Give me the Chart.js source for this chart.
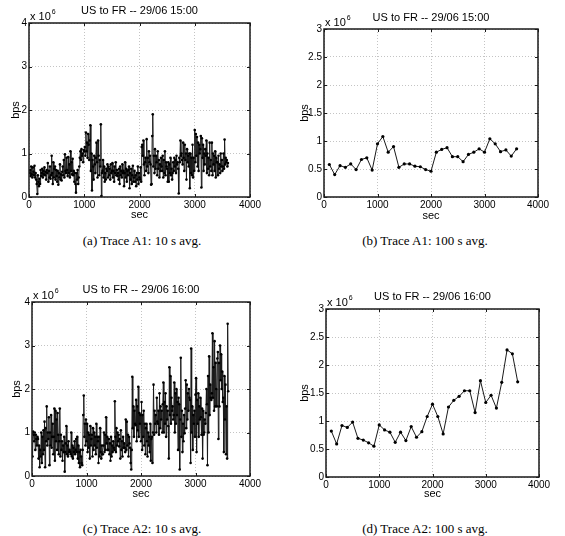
<!DOCTYPE html>
<html><head><meta charset="utf-8">
<script src="https://cdn.jsdelivr.net/npm/chart.js@4/dist/chart.umd.min.js"></script>
<style>
html,body{margin:0;padding:0;background:#fff;width:565px;height:536px;overflow:hidden;position:relative}
.box{position:absolute}
.cap{position:absolute;font-family:"Liberation Serif","Times New Roman",serif;font-size:13px;line-height:normal;padding:3px 4px;color:#000;transform:translate(-50%,-50%);white-space:nowrap;opacity:0.99}
</style></head><body>
<div class="box" id="wa"><canvas id="ca"></canvas></div>
<div class="box" id="wb"><canvas id="cb"></canvas></div>
<div class="box" id="wc"><canvas id="cc"></canvas></div>
<div class="box" id="wd"><canvas id="cd"></canvas></div>
<div class="cap" style="left:142px;top:241px">(a) Trace A1: 10 s avg.</div>
<div class="cap" style="left:425px;top:241px">(b) Trace A1: 100 s avg.</div>
<div class="cap" style="left:142px;top:529px">(c) Trace A2: 10 s avg.</div>
<div class="cap" style="left:425px;top:529px">(d) Trace A2: 100 s avg.</div>
<script>
// ---- data (bps, in units of 10^6) ----
const STEP_10S = 10;    // seconds between samples, 10 s average traces
const STEP_100S = 100;  // seconds between samples, 100 s average traces
const X_TICKS = [0, 1000, 2000, 3000, 4000];
const Y_TICKS_10S = [0, 1, 2, 3, 4];
const Y_TICKS_100S = [0, 0.5, 1, 1.5, 2, 2.5, 3];
const TITLE_A1 = "US to FR -- 29/06 15:00";
const TITLE_A2 = "US to FR -- 29/06 16:00";

const A1_10S = [
0.55,0.62,0.48,0.70,0.52,0.45,0.68,0.58,0.50,0.72,
0.45,0.55,0.40,0.30,0.07,0.50,0.35,0.25,0.42,0.30,
0.62,0.48,0.55,0.65,0.45,0.60,0.52,0.68,0.50,0.58,
0.40,0.62,0.55,0.78,0.35,0.60,0.45,0.70,0.42,0.50,
0.95,0.55,0.30,0.80,0.45,0.65,0.70,0.40,0.62,0.48,
0.35,0.60,0.28,0.55,0.45,0.75,0.40,0.52,0.38,0.58,
0.70,0.50,0.85,0.45,0.98,0.60,0.55,0.90,0.62,0.48,
0.92,0.55,0.75,0.45,1.05,0.60,0.80,0.52,0.88,0.50,
0.60,0.35,0.55,0.30,0.10,0.55,0.40,0.62,0.30,0.45,
0.70,0.90,1.05,0.85,1.10,0.95,1.00,0.80,1.08,1.05,
1.15,0.95,1.48,1.05,1.25,0.90,1.45,1.20,0.85,1.30,
1.65,0.60,1.00,0.15,0.85,0.70,0.40,0.95,0.75,0.55,
0.90,1.25,0.80,0.45,1.30,0.95,0.50,0.85,0.70,1.67,
0.02,0.55,0.60,0.85,0.45,0.70,0.35,0.55,0.40,0.65,
0.60,0.75,0.45,0.70,0.50,0.65,0.40,0.75,0.55,0.60,
0.78,0.45,0.60,0.35,0.70,0.55,0.80,0.50,0.62,0.48,
0.55,0.40,0.65,0.30,0.70,0.50,0.60,0.45,0.75,0.55,
0.60,0.25,0.55,0.80,0.45,0.65,0.35,0.60,0.50,0.62,
0.70,0.20,0.55,0.40,0.65,0.30,0.50,0.72,0.35,0.45,
0.60,0.35,0.50,0.25,0.55,0.40,0.70,0.30,0.55,0.45,
0.40,0.68,0.35,1.15,1.20,0.95,1.30,0.75,0.50,0.80,
0.90,0.60,1.33,0.70,0.90,0.55,1.05,0.80,0.95,0.75,
0.28,0.30,1.40,1.90,0.70,0.95,0.55,1.10,0.65,0.95,
0.80,0.50,1.05,0.65,0.85,0.45,0.75,0.60,0.90,0.70,
0.60,0.95,0.45,0.85,0.55,1.05,0.50,0.80,0.70,0.65,
0.35,0.80,0.35,0.75,0.55,0.90,0.50,0.65,0.40,0.55,
0.80,0.60,0.90,0.70,0.85,0.55,0.95,0.75,0.80,0.65,
0.08,0.90,0.80,1.30,0.95,1.00,0.85,0.75,1.25,0.90,
0.60,1.20,0.85,1.00,0.40,1.10,0.80,0.95,0.70,1.00,
0.20,1.00,0.55,0.90,0.50,1.20,0.45,0.90,0.60,1.54,
0.80,1.45,0.95,1.38,0.70,1.25,0.60,1.20,1.00,1.10,
1.40,0.22,1.35,0.90,1.20,0.60,1.00,0.75,1.10,0.95,
1.30,0.55,1.00,0.65,0.90,0.50,1.25,0.70,0.85,0.60,
1.25,0.50,1.00,0.75,0.95,0.60,1.05,0.45,0.90,0.80,
0.80,0.50,0.95,0.65,0.75,0.55,1.00,0.70,0.85,0.60,
0.70,1.00,0.65,1.32,0.75,0.90,0.80,0.85,0.70,0.78
];
const A1_100S = [0.58,0.40,0.56,0.53,0.59,0.49,0.67,0.70,0.48,0.95,1.08,0.80,0.90,0.53,0.59,0.59,0.55,0.54,0.49,0.46,
0.80,0.85,0.88,0.72,0.72,0.63,0.76,0.80,0.86,0.80,1.04,0.95,0.81,0.84,0.73,0.86];

const A2_10S = [
0.45,1.02,0.95,0.80,1.00,0.60,0.95,0.85,0.70,0.90,
0.85,0.40,0.70,0.20,0.60,0.45,1.00,0.30,0.90,0.50,
1.05,0.60,1.25,0.20,1.10,0.80,1.60,0.70,1.00,0.85,
1.35,0.25,1.00,0.70,1.40,0.65,0.90,1.20,0.50,0.90,
1.55,0.35,1.50,0.80,1.30,0.60,1.45,0.95,0.50,0.80,
1.55,0.45,0.95,0.60,0.80,0.35,0.70,0.55,0.90,0.10,
0.55,0.75,1.15,0.50,0.70,0.45,0.80,0.55,0.60,0.55,
0.50,1.00,0.45,0.70,0.40,0.65,0.55,0.80,0.50,0.60,
0.85,0.55,0.90,0.40,0.70,0.30,0.55,0.20,0.60,0.45,
0.30,0.25,0.60,1.40,1.85,0.90,1.20,0.70,1.30,0.80,
1.20,0.55,1.00,0.65,0.95,0.40,1.15,0.70,0.85,0.95,
0.45,1.10,0.60,1.00,0.70,0.90,0.50,1.20,0.65,0.90,
0.80,0.30,0.90,0.45,1.10,0.55,0.40,0.70,0.50,0.50,
0.70,1.00,0.55,0.95,0.60,1.35,0.75,0.90,0.60,0.60,
0.85,0.50,0.75,0.35,0.90,0.45,0.70,0.55,0.80,0.65,
0.60,1.72,0.90,0.55,1.10,0.70,1.00,0.80,0.95,0.68,
0.85,0.40,1.05,0.60,0.80,0.45,0.90,0.65,0.75,0.65,
0.55,1.30,0.60,1.25,0.70,0.95,0.45,0.90,0.75,0.65,
0.30,0.15,0.60,2.28,1.10,1.60,0.90,1.50,1.20,1.17,
1.75,0.80,1.60,1.05,2.05,0.90,1.45,1.20,1.40,0.80,
1.70,0.60,1.40,0.90,1.50,0.70,1.20,0.50,1.10,1.20,
0.80,0.45,1.00,0.70,0.90,0.55,1.20,0.35,0.85,0.90,
0.30,1.00,2.10,0.95,1.50,1.20,1.40,1.00,1.80,1.25,
1.20,1.50,0.95,1.90,1.10,1.60,1.30,1.50,1.00,1.65,
2.15,1.00,1.70,1.20,1.90,0.90,1.60,1.30,1.50,1.15,
0.40,2.50,1.40,2.30,1.20,1.80,1.50,1.60,1.30,1.40,
2.15,1.00,1.90,1.20,2.00,1.40,1.70,0.60,1.80,1.65,
0.15,1.30,2.72,0.90,1.50,0.55,1.20,0.80,1.40,0.98,
1.55,2.20,1.10,2.10,1.30,1.90,1.50,2.00,1.80,1.75,
0.30,2.93,1.00,1.60,0.60,1.40,1.20,1.50,0.90,1.87,
2.25,0.55,1.75,1.20,1.90,0.90,1.60,1.30,1.80,1.35,
0.95,1.55,0.40,1.50,0.95,1.00,1.30,1.20,1.45,2.00,
1.65,0.25,2.30,1.00,2.75,1.40,2.10,1.80,1.75,1.90,
3.28,1.80,2.50,1.50,3.10,1.60,2.60,2.00,1.60,2.70,
2.85,0.85,2.60,1.60,3.00,2.20,2.80,2.00,2.40,1.70,
1.80,0.55,2.30,1.30,2.10,0.50,1.60,0.40,3.50,1.95
];
const A2_100S = [0.82,0.59,0.92,0.885,0.98,0.69,0.66,0.61,0.55,0.93,0.84,0.80,0.62,0.80,0.65,0.90,0.71,0.81,1.08,1.30,
1.08,0.77,1.25,1.37,1.44,1.54,1.54,1.15,1.72,1.33,1.46,1.23,1.69,2.27,2.20,1.70];

// ---- helpers ----
Chart.defaults.font.family = '"Liberation Sans", Arial, sans-serif';
Chart.defaults.color = '#000';

function toPoints(vals, step) {
  return vals.map((v, i) => ({x: (i + 1) * step, y: v}));
}

const framePlugin = {
  id: 'frame',
  afterDraw(chart) {
    const {ctx, chartArea: a, scales: {x, y}} = chart;
    ctx.save();
    ctx.strokeStyle = '#1a1a1a';
    ctx.lineWidth = 1.5;
    const L = Math.round(a.left), R = Math.round(a.right);
    const T = Math.round(a.top), B = Math.round(a.bottom);
    ctx.beginPath();
    ctx.rect(L, T, R - L, B - T);
    ctx.stroke();
    ctx.lineWidth = 1;
    ctx.beginPath();
    const tl = 3;
    x.ticks.forEach(t => {
      const p = Math.round(x.getPixelForValue(t.value)) + 0.5;
      ctx.moveTo(p, B); ctx.lineTo(p, B - tl);
      ctx.moveTo(p, T); ctx.lineTo(p, T + tl);
    });
    y.ticks.forEach(t => {
      const p = Math.round(y.getPixelForValue(t.value)) + 0.5;
      ctx.moveTo(L, p); ctx.lineTo(L + tl, p);
      ctx.moveTo(R, p); ctx.lineTo(R - tl, p);
    });
    ctx.stroke();
    // exponent label "x 10^6"
    ctx.fillStyle = '#000';
    ctx.textAlign = 'left';
    ctx.textBaseline = 'alphabetic';
    ctx.font = '11px "Liberation Sans", Arial, sans-serif';
    const base = 'x 10';
    ctx.fillText(base, a.left + 1, a.top - 3);
    const w = ctx.measureText(base).width;
    ctx.font = '7px "Liberation Sans", Arial, sans-serif';
    ctx.fillText('6', a.left + 1 + w + 1, a.top - 9);
    ctx.restore();
  }
};

function makeChart(id, wrapId, cfg) {
  const W = cfg.width;
  const H = Math.round(cfg.secY + 6.6 - cfg.top);
  const wrap = document.getElementById(wrapId);
  wrap.style.left = cfg.left + 'px';
  wrap.style.top = cfg.top + 'px';
  const cv = document.getElementById(id);
  cv.width = W; cv.height = H;
  cv.style.width = W + 'px'; cv.style.height = H + 'px';

  const yW = cfg.L - cfg.left;
  const xH = H - (cfg.B - cfg.top);
  const tPadTop = cfg.titleY - cfg.top - 6.6;
  const tPadBot = (cfg.T - cfg.top) - 13.2 - tPadTop;
  const yTitlePad = cfg.bpsX - cfg.left - 6.6;
  const yTicks = cfg.yTicks;

  return new Chart(cv, {
    type: 'line',
    data: {
      datasets: [{
        data: toPoints(cfg.values, cfg.step),
        borderColor: '#1a1a1a',
        borderWidth: 1,
        pointRadius: cfg.pr,
        pointBackgroundColor: '#000',
        pointBorderColor: '#000',
        pointBorderWidth: 0,
        tension: 0,
        fill: false
      }]
    },
    options: {
      responsive: false,
      animation: false,
      devicePixelRatio: 1,
      layout: {padding: {left: 0, top: 0, bottom: 0, right: (cfg.left + W) - cfg.R}},
      plugins: {
        legend: {display: false},
        tooltip: {enabled: false},
        title: {
          display: true, text: cfg.title, fullSize: false,
          font: {size: 11, weight: 'normal'}, color: '#000',
          padding: {top: tPadTop, bottom: tPadBot}
        }
      },
      scales: {
        x: {
          type: 'linear', min: 0, max: 4000,
          afterBuildTicks: s => { s.ticks = X_TICKS.map(v => ({value: v})); },
          afterFit: s => { s.height = xH; },
          ticks: {font: {size: 10}, padding: 2, maxRotation: 0, callback: v => String(v)},
          grid: {color: '#c4c4c4', lineWidth: 1, drawTicks: false},
          border: {display: false, dash: [1, 2]},
          title: {display: true, text: 'sec', font: {size: 11}, padding: {top: 0, bottom: 0}}
        },
        y: {
          type: 'linear', min: 0, max: yTicks[yTicks.length - 1],
          afterBuildTicks: s => { s.ticks = yTicks.map(v => ({value: v})); },
          afterFit: s => { s.width = yW; },
          ticks: {font: {size: 10}, padding: 2, callback: v => String(v)},
          grid: {color: '#c4c4c4', lineWidth: 1, drawTicks: false},
          border: {display: false, dash: [1, 2]},
          title: {display: true, text: 'bps', font: {size: 11}, padding: {top: yTitlePad, bottom: 0}}
        }
      }
    },
    plugins: [framePlugin]
  });
}

makeChart('ca', 'wa', {left: 0, top: 0, width: 282, L: 29, T: 23, R: 250, B: 197,
  titleY: 10.5, bpsX: 16, secY: 215.5, title: TITLE_A1, values: A1_10S, step: STEP_10S, yTicks: Y_TICKS_10S, pr: 1.3});
makeChart('cb', 'wb', {left: 285, top: 0, width: 280, L: 324, T: 29, R: 538, B: 197,
  titleY: 17.5, bpsX: 305, secY: 216.5, title: TITLE_A1, values: A1_100S, step: STEP_100S, yTicks: Y_TICKS_100S, pr: 1.6});
makeChart('cc', 'wc', {left: 0, top: 262, width: 282, L: 32, T: 302, R: 250, B: 476,
  titleY: 290, bpsX: 17, secY: 494.5, title: TITLE_A2, values: A2_10S, step: STEP_10S, yTicks: Y_TICKS_10S, pr: 1.3});
makeChart('cd', 'wd', {left: 285, top: 262, width: 280, L: 326, T: 309, R: 539, B: 477,
  titleY: 297, bpsX: 305, secY: 494.5, title: TITLE_A2, values: A2_100S, step: STEP_100S, yTicks: Y_TICKS_100S, pr: 1.6});
</script>
</body></html>
